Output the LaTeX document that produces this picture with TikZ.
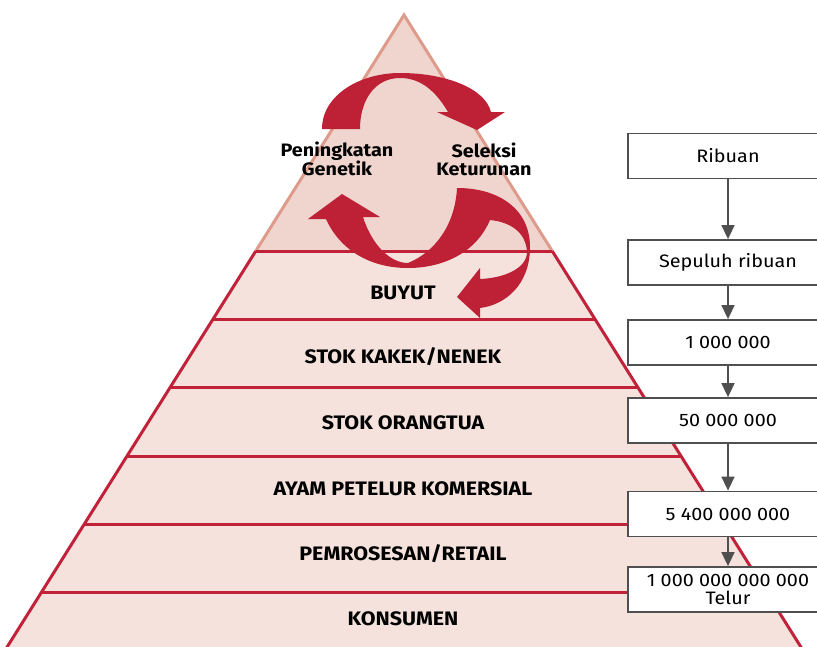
\documentclass[tikz,border=0pt]{standalone}
\usepackage{fontspec}
\setmainfont[FakeStretch=1.1]{Fira Sans}
\usetikzlibrary{arrows.meta}
\definecolor{pred}{HTML}{C1223A}
\definecolor{arrred}{HTML}{BE2035}
\definecolor{salmon}{HTML}{DE9A8A}
\definecolor{topfill}{HTML}{F0D5CE}
\definecolor{bandfill}{HTML}{F5E2DC}
\definecolor{boxgray}{HTML}{4F4F4F}
\tikzset{
  lvl/.style={font=\bfseries\fontsize{19.5}{21}\selectfont, text=black},
  cyc/.style={font=\bfseries\fontsize{18}{18}\selectfont, align=center, text=black},
  numbox/.style={draw=boxgray, line width=1.8pt, fill=white, minimum width=200pt, minimum height=45pt, inner sep=0pt, font=\fontsize{18}{18.5}\selectfont, align=center},
  flow/.style={draw=boxgray, line width=1.6pt, -{Triangle[width=13pt,length=14pt]}},
  redline/.style={draw=pred, line width=3pt},
  bigarrow/.style={fill=arrred, draw=none}
}
\begin{document}
\begin{tikzpicture}[x=1pt,y=-1pt]
\useasboundingbox (0,0) rectangle (817,646);
% pyramid fills
\fill[bandfill] (255.8,251) -- (552.2,251) -- (802.8,650) -- (5.2,650) -- cycle;
\fill[topfill] (404,15) -- (552.2,251) -- (255.8,251) -- cycle;
\draw[salmon, line width=3pt, line join=miter] (255.8,251) -- (404,15) -- (552.2,251);
% sides
\draw[redline] (255.8,251) -- (5.2,650);
\draw[redline] (552.2,251) -- (802.8,650);
% band lines
\draw[redline] (255.8,251) -- (552.2,251);
\draw[redline] (213.1,319) -- (594.9,319);
\draw[redline] (170.4,387) -- (637.6,387);
\draw[redline] (127.1,456) -- (680.9,456);
\draw[redline] (84.3,524) -- (723.7,524);
\draw[redline] (41.6,592) -- (766.4,592);
% level labels
\node[lvl] (l1) at (403,293) {BUYUT};
\node[lvl] (l2) at (403,357) {STOK KAKEK/NENEK};
\node[lvl] (l3) at (403,423) {STOK ORANGTUA};
\node[lvl] (l4) at (403,489) {AYAM PETELUR KOMERSIAL};
\node[lvl] (l5) at (403,554) {PEMROSESAN/RETAIL};
\node[lvl] (l6) at (403,619) {KONSUMEN};
% top cycle arrow
\path[bigarrow] (322,129) .. controls (322,95) and (360,73) .. (400,73)
  .. controls (445,73) and (485,88) .. (491,112) -- (505,112) -- (477,130) -- (437,112) -- (448,112)
  .. controls (435,90) and (420,78) .. (400,78)
  .. controls (375,78) and (360,100) .. (360,129) -- cycle;
% lower cycle arrow + arrow to BUYUT
\path[bigarrow] (457,188) .. controls (500,188) and (530,210) .. (530,247)
  .. controls (530,285) and (505,305) .. (480,308) -- (480,318) -- (457,297) -- (480,268) -- (480,279)
  .. controls (505,278) and (527,268) .. (527,252)
  .. controls (526,232) and (510,222) .. (490,220)
  .. controls (475,255) and (440,268) .. (408,268)
  .. controls (370,268) and (340,250) .. (326,219) -- (308,219) -- (342,194) -- (380,217) -- (363,217)
  .. controls (372,245) and (390,263) .. (408,263)
  .. controls (435,252) and (455,225) .. (457,188) -- cycle;
% cycle labels
\node[cyc] (pg) at (337,159) {Peningkatan\\Genetik};
\node[cyc] (sk) at (484,159) {Seleksi\\Keturunan};
% right column
\node[numbox] (b1) at (728,156) {Ribuan};
\node[numbox] (b2) at (728,262.5) {Sepuluh ribuan};
\node[numbox] (b3) at (728,342.5) {1 000 000};
\node[numbox] (b4) at (728,420.5) {50 000 000};
\node[numbox] (b5) at (728,514) {5 400 000 000};
\node[numbox] (b6) at (728,589.5) {1 000 000 000 000\\Telur};
\draw[flow] (b1) -- (b2);
\draw[flow] (b2) -- (b3);
\draw[flow] (b3) -- (b4);
\draw[flow] (b4) -- (b5);
\draw[flow] (b5) -- (b6);
\end{tikzpicture}
\end{document}
